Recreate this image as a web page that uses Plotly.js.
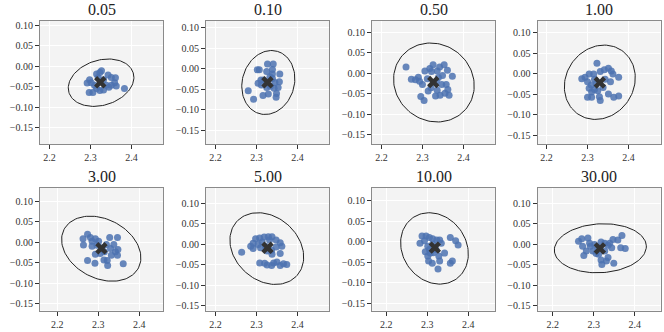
<!DOCTYPE html>
<html>
<head>
<meta charset="utf-8">
<script src="https://cdn.plot.ly/plotly-3.0.1.min.js"></script>
<style>
  html, body { margin: 0; padding: 0; background: #ffffff; }
  #plotDiv { width: 664px; height: 332px; }
</style>
</head>
<body>
<div id="plotDiv"></div>
<script>
// Panel titles
const panelTitles = ['0.05', '0.10', '0.50', '1.00', '3.00', '5.00', '10.00', '30.00'];

// Sample points, one x/y pair per panel
const x_005 = [2.292, 2.298, 2.315, 2.323, 2.327, 2.319, 2.332, 2.343, 2.351, 2.361, 2.359, 2.351, 2.363, 2.383, 2.315, 2.306, 2.297, 2.323, 2.332, 2.339, 2.310, 2.302, 2.345];
const y_005 = [-0.041, -0.033, -0.019, -0.015, -0.011, -0.027, -0.033, -0.021, -0.027, -0.028, -0.040, -0.046, -0.048, -0.054, -0.054, -0.064, -0.064, -0.059, -0.058, -0.046, -0.046, -0.040, -0.051];

const x_010 = [2.327, 2.341, 2.307, 2.302, 2.325, 2.339, 2.339, 2.357, 2.356, 2.353, 2.333, 2.318, 2.304, 2.312, 2.325, 2.334, 2.343, 2.349, 2.348, 2.329, 2.316, 2.280, 2.293, 2.345, 2.339, 2.311];
const y_010 = [0.011, 0.011, -0.003, -0.003, -0.007, -0.002, -0.013, -0.013, -0.032, -0.046, -0.020, -0.028, -0.036, -0.040, -0.046, -0.043, -0.048, -0.061, -0.070, -0.062, -0.066, -0.054, -0.075, -0.034, -0.024, -0.028];

const x_050 = [2.260, 2.273, 2.283, 2.290, 2.300, 2.306, 2.318, 2.326, 2.322, 2.336, 2.342, 2.353, 2.361, 2.373, 2.349, 2.339, 2.334, 2.347, 2.358, 2.362, 2.355, 2.343, 2.332, 2.321, 2.314, 2.296, 2.304, 2.336, 2.365, 2.312, 2.293];
const y_050 = [0.015, -0.015, -0.016, -0.010, -0.028, 0.005, 0.011, 0.020, 0.004, 0.005, 0.015, 0.020, 0.007, -0.008, -0.006, -0.011, -0.020, -0.028, -0.028, -0.040, -0.049, -0.054, -0.056, -0.036, -0.044, -0.057, -0.067, -0.042, -0.054, -0.014, -0.020];

const x_100 = [2.323, 2.315, 2.304, 2.294, 2.286, 2.331, 2.341, 2.351, 2.358, 2.362, 2.376, 2.356, 2.343, 2.317, 2.309, 2.304, 2.317, 2.310, 2.300, 2.310, 2.329, 2.331, 2.351, 2.364, 2.376, 2.325, 2.338, 2.300, 2.321];
const y_100 = [0.026, 0.000, 0.000, -0.008, -0.012, 0.006, 0.010, 0.014, 0.007, 0.000, -0.008, -0.019, -0.013, -0.013, -0.027, -0.035, -0.038, -0.044, -0.057, -0.057, -0.056, -0.065, -0.049, -0.057, -0.054, -0.041, -0.033, -0.019, -0.024];

const x_300 = [2.263, 2.274, 2.281, 2.285, 2.264, 2.293, 2.301, 2.297, 2.293, 2.274, 2.292, 2.305, 2.315, 2.322, 2.323, 2.309, 2.320, 2.328, 2.347, 2.338, 2.342, 2.347, 2.348, 2.361, 2.330, 2.332, 2.285, 2.314];
const y_300 = [0.008, 0.019, 0.011, 0.002, -0.007, 0.008, 0.002, -0.008, -0.030, -0.045, -0.052, -0.028, -0.024, -0.045, -0.057, -0.014, -0.006, 0.011, 0.011, -0.006, -0.024, -0.032, -0.018, -0.053, -0.016, -0.032, -0.010, -0.044];

const x_500 = [2.264, 2.286, 2.292, 2.298, 2.308, 2.319, 2.329, 2.338, 2.332, 2.314, 2.304, 2.292, 2.348, 2.358, 2.362, 2.348, 2.337, 2.326, 2.338, 2.358, 2.308, 2.320, 2.326, 2.337, 2.342, 2.350, 2.358, 2.366, 2.374, 2.322, 2.310];
const y_500 = [-0.020, -0.005, 0.002, 0.013, 0.015, 0.017, 0.018, 0.018, 0.010, 0.005, -0.001, -0.011, 0.010, 0.003, -0.005, -0.007, -0.015, -0.017, -0.025, -0.023, -0.046, -0.047, -0.051, -0.052, -0.046, -0.044, -0.052, -0.048, -0.050, -0.005, -0.009];

const x_1000 = [2.282, 2.287, 2.297, 2.305, 2.313, 2.323, 2.330, 2.334, 2.313, 2.301, 2.295, 2.301, 2.307, 2.315, 2.303, 2.312, 2.326, 2.330, 2.328, 2.342, 2.356, 2.369, 2.375, 2.356, 2.361, 2.321, 2.305, 2.293];
const y_1000 = [-0.004, 0.014, 0.014, 0.010, 0.007, 0.004, 0.004, -0.004, -0.006, -0.011, -0.025, -0.035, -0.028, -0.027, -0.047, -0.053, -0.067, -0.047, -0.035, -0.028, 0.010, 0.002, -0.008, -0.053, -0.047, -0.019, -0.019, 0.002];

const x_3000 = [2.263, 2.271, 2.286, 2.273, 2.276, 2.282, 2.292, 2.302, 2.306, 2.312, 2.318, 2.327, 2.335, 2.347, 2.339, 2.344, 2.318, 2.335, 2.331, 2.349, 2.320, 2.359, 2.369, 2.366, 2.377, 2.310, 2.298, 2.290, 2.327];
const y_3000 = [0.007, 0.013, 0.015, -0.005, -0.028, -0.017, -0.005, -0.001, -0.023, -0.025, 0.005, 0.002, -0.003, 0.011, 0.002, -0.009, -0.039, -0.033, -0.041, -0.047, -0.050, 0.010, 0.021, -0.009, -0.011, -0.009, -0.017, 0.002, -0.017];

// Mean marker (the X) per panel
const meanX = [2.324, 2.327, 2.3265, 2.330, 2.3078, 2.327, 2.3182, 2.3151];
const meanY = [-0.039, -0.0336, -0.022, -0.021, -0.0154, -0.009, -0.0146, -0.0106];

// Ellipse per panel: centre, semi-axes and rotation (degrees)
const ellCx = [2.326, 2.329, 2.328, 2.330, 2.3074, 2.3253, 2.3174, 2.3163];
const ellCy = [-0.040, -0.034, -0.023, -0.0204, -0.0162, -0.011, -0.0166, -0.0102];
const ellA = [0.082, 0.0791, 0.1014, 0.0942, 0.1022, 0.0987, 0.0916, 0.1123];
const ellB = [0.055, 0.0634, 0.0931, 0.0826, 0.0721, 0.0775, 0.0775, 0.0596];
const ellAngle = [17, 73.7, -37.7, 55.5, -27.2, -41.5, -54.2, 3.1];

// Tick values
const xTicks = [2.2, 2.3, 2.4];
const yTicks = [0.10, 0.05, 0.00, -0.05, -0.10, -0.15];

const xsAll = [x_005, x_010, x_050, x_100, x_300, x_500, x_1000, x_3000];
const ysAll = [y_005, y_010, y_050, y_100, y_300, y_500, y_1000, y_3000];

// Panel boxes in pixels (left, right) per column and (top, bottom) per row
const W = 664, H = 332;
const colPx = [[40, 163], [206, 329], [372, 495], [537.5, 660.5]];
const rowPx = [[21, 144], [187.5, 310.5]];
// Axis bounds per panel (each span is 0.3 so both axes share the same scale)
const xLow = [2.177, 2.177, 2.177, 2.178, 2.158, 2.177, 2.165, 2.163];
const yHigh = [0.1105, 0.116, 0.127, 0.129, 0.133, 0.138, 0.132, 0.138];
const SPAN = 0.3;

const SERIF = 'Liberation Serif';

// Outline of a rotated ellipse from its parameters
function ellipseOutline(cx, cy, a, b, deg) {
    const th = deg * Math.PI / 180;
    const xs = [], ys = [];
    for (let i = 0; i <= 120; i++) {
        const t = 2 * Math.PI * i / 120;
        const u = a * Math.cos(t), v = b * Math.sin(t);
        xs.push(cx + u * Math.cos(th) - v * Math.sin(th));
        ys.push(cy + u * Math.sin(th) + v * Math.cos(th));
    }
    return {xs, ys};
}

function axisStyle(extra) {
    return Object.assign({
        showgrid: true,
        gridcolor: '#ffffff',
        gridwidth: 1,
        zeroline: false,
        showline: true,
        mirror: true,
        linecolor: '#8a8a8a',
        linewidth: 1,
        ticks: 'outside',
        ticklen: 4,
        tickwidth: 1,
        tickcolor: '#333333',
        tickfont: {family: SERIF, size: 10, color: '#333333'},
        fixedrange: true
    }, extra);
}

const traces = [];
const layout = {
    width: W,
    height: H,
    margin: {l: 0, r: 0, t: 0, b: 0},
    paper_bgcolor: '#ffffff',
    plot_bgcolor: '#f3f3f3',
    showlegend: false,
    font: {family: SERIF},
    annotations: []
};

for (let i = 0; i < 8; i++) {
    const n = i + 1;
    const xa = n === 1 ? 'x' : 'x' + n;
    const ya = n === 1 ? 'y' : 'y' + n;
    const col = colPx[i % 4];
    const row = rowPx[Math.floor(i / 4)];

    // Ellipse
    const e = ellipseOutline(ellCx[i], ellCy[i], ellA[i], ellB[i], ellAngle[i]);
    traces.push({
        x: e.xs, y: e.ys, xaxis: xa, yaxis: ya,
        mode: 'lines', line: {color: '#222222', width: 1}, hoverinfo: 'skip'
    });

    // Points
    traces.push({
        x: xsAll[i], y: ysAll[i], xaxis: xa, yaxis: ya,
        mode: 'markers', type: 'scatter',
        marker: {color: '#4c72b0', size: 7, opacity: 0.85, line: {width: 0}}
    });

    // Mean marker
    traces.push({
        x: [meanX[i]], y: [meanY[i]], xaxis: xa, yaxis: ya,
        mode: 'markers',
        marker: {symbol: 'x', color: '#333333', size: 11, line: {width: 0}}
    });

    layout['xaxis' + (n === 1 ? '' : n)] = axisStyle({
        domain: [col[0] / W, col[1] / W],
        anchor: ya,
        range: [xLow[i], xLow[i] + SPAN],
        tickvals: xTicks,
        tickformat: '.1f'
    });
    layout['yaxis' + (n === 1 ? '' : n)] = axisStyle({
        domain: [1 - row[1] / H, 1 - row[0] / H],
        anchor: xa,
        range: [yHigh[i] - SPAN, yHigh[i]],
        tickvals: yTicks,
        tickformat: '.2f'
    });

    layout.annotations.push({
        text: panelTitles[i],
        xref: 'paper', yref: 'paper',
        x: (col[0] + col[1]) / 2 / W,
        y: 1 - (row[0] - 11.5) / H,
        xanchor: 'center', yanchor: 'middle',
        showarrow: false,
        font: {family: SERIF, size: 16, color: '#222222', weight: 'normal'}
    });
}

Plotly.newPlot('plotDiv', traces, layout, {staticPlot: true});
</script>
</body>
</html>
